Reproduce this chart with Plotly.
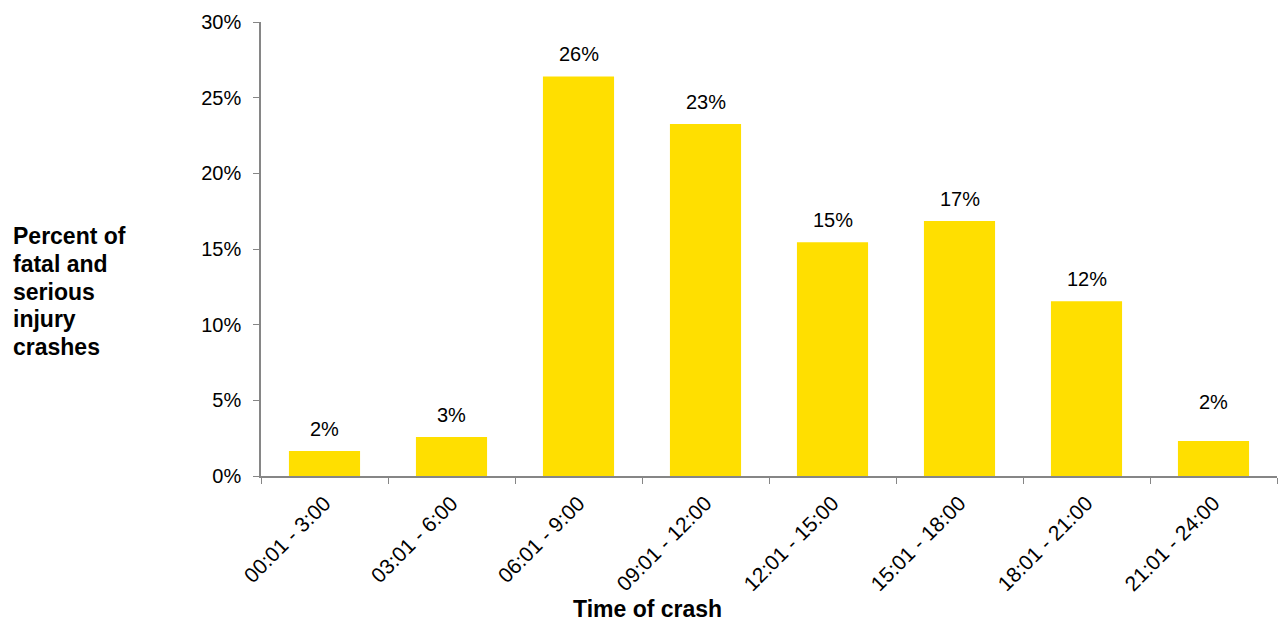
import plotly.graph_objects as go

categories = ["00:01 - 3:00", "03:01 - 6:00", "06:01 - 9:00", "09:01 - 12:00",
              "12:01 - 15:00", "15:01 - 18:00", "18:01 - 21:00", "21:01 - 24:00"]
values = [1.65, 2.58, 26.4, 23.26, 15.45, 16.85, 11.55, 2.31]
labels = ["2%", "3%", "26%", "23%", "15%", "17%", "12%", "2%"]
label_shift = [22, 22, 22, 22, 22, 22, 22, 39]
y_title_lines = ["Percent of", "fatal and", "serious", "injury", "crashes"]

FONT = "Liberation Sans, Arial, sans-serif"
AXIS_COLOR = "#868686"
PLOT_H = 454.0

fig = go.Figure()
fig.add_trace(go.Bar(x=categories, y=values, marker=dict(color="#FFDF00", line=dict(width=0)),
                     hoverinfo="skip"))

for c, v, t, s in zip(categories, values, labels, label_shift):
    fig.add_annotation(x=c, y=v, text=t, showarrow=False, xref="x", yref="y",
                       yanchor="middle", yshift=s, font=dict(size=20, color="#000000", family=FONT))

fig.add_annotation(xref="paper", yref="paper", x=0.38, y=(476 - 609) / PLOT_H,
                   xanchor="center", yanchor="middle", borderpad=0,
                   text="<b>Time of crash</b>", showarrow=False,
                   font=dict(size=23, color="#000000", family=FONT))

for i, line in enumerate(y_title_lines):
    center_px = 236 + i * 27.75
    fig.add_annotation(xref="paper", yref="paper", x=-0.246, y=(476 - center_px) / PLOT_H,
                       xanchor="left", yanchor="middle", align="left",
                       text="<b>" + line + "</b>", showarrow=False,
                       font=dict(size=23, color="#000000", family=FONT))

fig.update_layout(
    width=1281, height=624,
    margin=dict(l=261, r=4, t=22, b=148),
    plot_bgcolor="#FFFFFF", paper_bgcolor="#FFFFFF",
    bargap=0.44, showlegend=False,
    font=dict(family=FONT, size=20, color="#000000"),
)
fig.update_xaxes(type="category", tickson="boundaries", ticks="outside", ticklen=6,
                 tickcolor=AXIS_COLOR, showline=True, linecolor=AXIS_COLOR, linewidth=1.5,
                 tickangle=-45, showgrid=False, ticklabelstandoff=5,
                 tickfont=dict(size=21, family=FONT, color="#000000"))
fig.update_yaxes(range=[0, 30], dtick=5, ticksuffix="%", ticks="outside", ticklen=6,
                 tickcolor=AXIS_COLOR, showline=True, linecolor=AXIS_COLOR, linewidth=1.5,
                 showgrid=False, zeroline=False, ticklabelstandoff=8,
                 tickfont=dict(size=20, family=FONT, color="#000000"))

fig.write_html("out.html")
